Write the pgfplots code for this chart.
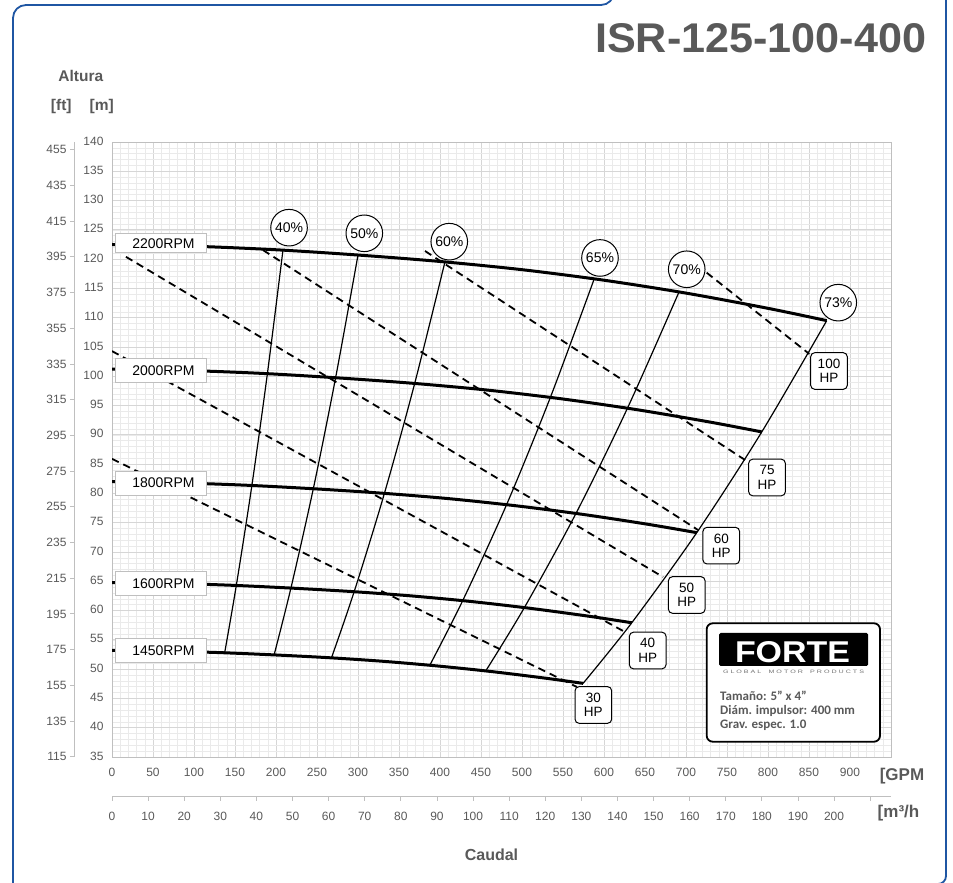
\documentclass[border=0pt]{standalone}
\usepackage{fontspec}
\setmainfont{Liberation Sans}
\newfontfamily\calibri{Carlito}
\usepackage{graphicx}
\usepackage{pgfplots}
\pgfplotsset{compat=1.18}
\definecolor{txtgray}{HTML}{595959}
\definecolor{axgray}{HTML}{BFBFBF}
\definecolor{majgrid}{HTML}{D6D6D6}
\definecolor{mingrid}{HTML}{EAEAEA}
\definecolor{framecol}{HTML}{1F56A3}
\tikzset{
  rpm/.style={black, line width=3pt, smooth},
  eff/.style={black, line width=1.2pt, smooth},
  hp/.style={black, line width=1.8pt, dash pattern=on 7.5pt off 5pt},
  rpmbox/.style={draw=black!25, line width=0.8pt, fill=white, minimum width=91pt, inner sep=0pt, font=\fontsize{14}{16}\selectfont},
  hpbox/.style={draw=black, line width=1pt, fill=white, rounded corners=4pt, minimum width=36.6pt, minimum height=36.6pt, inner sep=0pt, align=center, font=\fontsize{13.5}{14.5}\selectfont},
  effc/.style={circle, draw=black, line width=1pt, fill=white, minimum size=36.6pt, inner sep=0pt, font=\fontsize{14}{16}\selectfont}
}
\begin{document}
\begin{tikzpicture}[x=1pt,y=1pt]
% frame
\draw[framecol, line width=1.8pt, rounded corners=13pt] (13pt,-20pt) -- (13pt,878pt) -- (614pt,878pt) -- (614pt,900pt);
\draw[framecol, line width=1.8pt, rounded corners=8pt] (946pt,900pt) -- (946pt,-1pt) -- (900pt,-1pt);
% title
\node[anchor=south west, inner sep=0, text=txtgray] at (595pt,830pt) {\resizebox{331pt}{29pt}{\bfseries ISR-125-100-400}};
\node[text=txtgray, font=\fontsize{15.5}{17}\selectfont\bfseries] at (80.8pt,807.2pt) {Altura};
\node[text=txtgray, font=\fontsize{15.5}{17}\selectfont\bfseries] at (61.3pt,776.3pt) {[ft]};
\node[text=txtgray, font=\fontsize{15.5}{17}\selectfont\bfseries] at (101.7pt,776.3pt) {[m]};
\node[text=txtgray, font=\fontsize{17}{19}\selectfont\bfseries] at (902pt,107.2pt) {[GPM};
\node[text=txtgray, font=\fontsize{17}{19}\selectfont\bfseries] at (898.5pt,70pt) {[m³/h};
\node[text=txtgray, font=\fontsize{16}{18}\selectfont\bfseries] at (491.5pt,28pt) {Caudal};

% ft axis
\begin{axis}[at={(74pt,126pt)}, anchor=south west, scale only axis, width=10pt, height=615pt,
  xmin=0, xmax=1, ymin=114.829, ymax=459.318,
  axis y line*=left, hide x axis,
  ytick={115,135,...,455}, tick align=outside, major tick length=4pt,
  tick style={draw=axgray, line width=0.8pt}, axis line style={draw=axgray, line width=0.8pt},
  yticklabel style={font=\fontsize{12}{13}\selectfont, text=txtgray},
  /pgf/number format/assume math mode=true]
\addplot[draw=none] coordinates {(0,200)};
\end{axis}

% m3/h axis
\begin{axis}[at={(112pt,86.3pt)}, anchor=south west, scale only axis, width=779pt, height=10pt,
  xmin=0, xmax=215.767, ymin=0, ymax=1,
  axis x line*=bottom, hide y axis,
  xtick={0,10,...,200}, extra x ticks={210}, extra x tick labels={},
  tick align=outside, major tick length=4pt,
  tick style={draw=axgray, line width=0.8pt}, axis line style={draw=axgray, line width=0.8pt},
  xticklabel style={font=\fontsize{12}{13}\selectfont, text=txtgray, yshift=-8pt},
  /pgf/number format/assume math mode=true]
\addplot[draw=none] coordinates {(10,0.5)};
\end{axis}

% main axis
\begin{axis}[at={(112pt,126pt)}, anchor=south west, scale only axis, width=779pt, height=615pt,
  xmin=0, xmax=950, ymin=35, ymax=140,
  xtick={0,50,...,900}, ytick={35,40,...,140},
  minor xtick={0,10,...,950}, minor ytick={35,36,...,140},
  grid=both, major grid style={draw=majgrid, line width=0.8pt},
  minor grid style={draw=mingrid, line width=0.6pt},
  major tick length=0pt, minor tick length=0pt,
  axis line style={draw=axgray, line width=0.8pt},
  tick label style={font=\fontsize{12}{13}\selectfont, text=txtgray},
  xticklabel style={yshift=-8pt}, yticklabel style={xshift=-5pt, yshift=1pt},
  /pgf/number format/assume math mode=true
]
% RPM curves
\addplot[rpm] coordinates {(0,122.5)(100,122.2)(200,121.6)(300,120.7)(400,119.6)(500,118.2)(600,116.4)(700,114.2)(800,111.6)(871.6,109.5)};
\addplot[rpm] coordinates {(0,101.24)(90.9,100.99)(181.8,100.5)(272.7,99.75)(363.6,98.84)(454.5,97.69)(545.5,96.2)(636.4,94.38)(727.3,92.23)(792.4,90.5)};
\addplot[rpm] coordinates {(0,82.0)(81.8,81.8)(163.6,81.4)(245.5,80.8)(327.3,80.06)(409.1,79.13)(490.9,77.92)(572.7,76.45)(654.5,74.71)(713.1,73.3)};
\addplot[rpm] coordinates {(0,64.79)(72.7,64.64)(145.5,64.32)(218.2,63.84)(290.9,63.26)(363.6,62.52)(436.4,61.57)(509.1,60.4)(581.8,59.03)(633.9,57.92)};
\addplot[rpm] coordinates {(0,53.21)(65.9,53.08)(131.8,52.82)(197.7,52.43)(263.6,51.96)(329.5,51.35)(395.5,50.56)(461.4,49.61)(527.3,48.48)(574.5,47.57)};
% efficiency curves
\addplot[eff] coordinates {(208.5,121.55)(189.5,100.45)(170.6,81.37)(151.6,64.29)(137.4,52.8)};
\addplot[eff] coordinates {(300,120.7)(272.7,99.75)(245.5,80.8)(218.2,63.84)(197.7,52.43)};
\addplot[eff] coordinates {(406,119.5)(369.1,98.76)(332.2,80.0)(295.3,63.21)(267.6,51.91)};
\addplot[eff] coordinates {(588,116.6)(534.5,96.36)(481.1,78.05)(427.6,61.67)(387.5,50.65)};
\addplot[eff] coordinates {(691.5,114.4)(628.6,94.55)(565.8,76.58)(502.9,60.51)(455.8,49.7)};
\addplot[eff] coordinates {(871.6,109.5)(792.4,90.5)(713.1,73.3)(633.9,57.92)(574.5,47.57)};
% power lines
\addplot[hp] coordinates {(725.2,117.69)(850.4,103.81)};
\addplot[hp] coordinates {(381.7,121.39)(772.0,85.71)};
\addplot[hp] coordinates {(184.1,121.55)(714.6,73.76)};
\addplot[hp] coordinates {(17,120.4)(672.0,65.73)};
\addplot[hp] coordinates {(0,104.3)(625.6,56.34)};
\addplot[hp] coordinates {(0,85.9)(567.1,46.95)};
% RPM labels
\node[rpmbox, minimum height=19pt, text depth=0pt] at (axis cs:59.1,122.7) {\hspace*{6pt}2200RPM};
\node[rpmbox, minimum height=24pt] at (axis cs:59.1,100.96) {\hspace*{6pt}2000RPM};
\node[rpmbox, minimum height=24pt] at (axis cs:59.1,81.75) {\hspace*{6pt}1800RPM};
\node[rpmbox, minimum height=24pt] at (axis cs:59.1,64.67) {\hspace*{6pt}1600RPM};
\node[rpmbox, minimum height=24pt] at (axis cs:59.1,53.13) {\hspace*{6pt}1450RPM};
% HP labels
\node[hpbox] at (axis cs:874.4,100.9) {100\\HP};
\node[hpbox] at (axis cs:798.8,82.72) {75\\HP};
\node[hpbox] at (axis cs:743.0,71.08) {60\\HP};
\node[hpbox] at (axis cs:700.9,62.66) {50\\HP};
\node[hpbox] at (axis cs:653.3,53.18) {40\\HP};
\node[hpbox] at (axis cs:587.0,43.88) {30\\HP};
% efficiency labels
\node[effc] at (axis cs:215.9,125.37) {40\%};
\node[effc] at (axis cs:307.7,124.41) {50\%};
\node[effc] at (axis cs:411.3,122.98) {60\%};
\node[effc] at (axis cs:595.1,120.2) {65\%};
\node[effc] at (axis cs:700.9,118.27) {70\%};
\node[effc] at (axis cs:885.7,112.57) {73\%};
\end{axis}

% FORTE box
\draw[black, line width=1.8pt, fill=white, rounded corners=6pt] (706.7pt,141.3pt) rectangle (880pt,259.7pt);
\fill[black, rounded corners=1.5pt] (719pt,217pt) rectangle (868pt,250pt);
\node[inner sep=0, text=white] at (792.5pt,230.8pt) {\resizebox{115pt}{21pt}{\bfseries FORTE}};
\node[inner sep=0, text=black!55] at (793.5pt,211.3pt) {\resizebox{141pt}{3.4pt}{\fontsize{6}{6}\selectfont G L O B A L\quad M O T O R\quad P R O D U C T S}};
\node[anchor=west, inner sep=0, text=txtgray, font=\calibri\bfseries\fontsize{13}{15}\selectfont] at (720pt,187pt) {Tamaño: 5” x 4”};
\node[anchor=west, inner sep=0, text=txtgray, font=\calibri\bfseries\fontsize{13}{15}\selectfont] at (720pt,172.3pt) {Diám. impulsor: 400 mm};
\node[anchor=west, inner sep=0, text=txtgray, font=\calibri\bfseries\fontsize{13}{15}\selectfont] at (720pt,157.8pt) {Grav. espec. 1.0};

\pgfresetboundingbox
\path[use as bounding box] (0pt,0pt) rectangle (953pt,883pt);
\end{tikzpicture}
\end{document}
